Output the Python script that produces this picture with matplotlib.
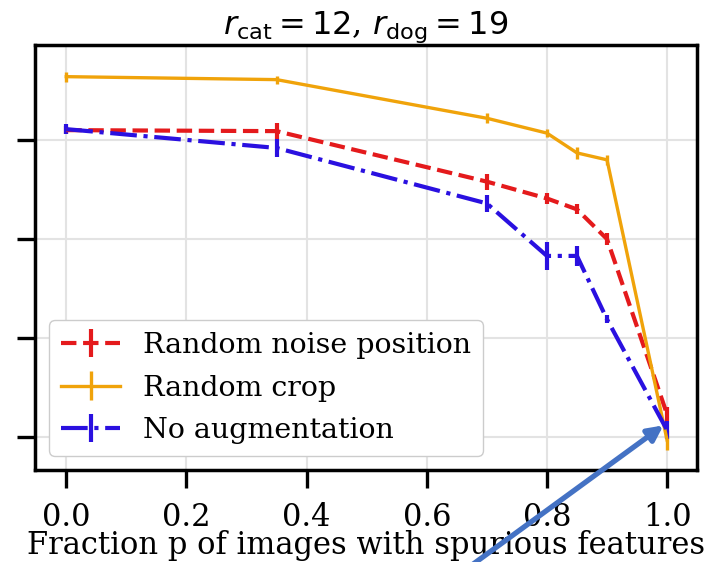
import matplotlib
matplotlib.use("Agg")
import matplotlib.pyplot as plt

# fraction p of images with spurious features
p_values = [0.0, 0.35, 0.7, 0.8, 0.85, 0.9, 1.0]

# accuracy-like values (y tick labels are hidden in the original)
noise_pos = [0.910, 0.909, 0.858, 0.841, 0.830, 0.800, 0.623]
noise_pos_err = [0.004, 0.008, 0.008, 0.006, 0.005, 0.006, 0.007]
crop = [0.964, 0.961, 0.922, 0.907, 0.887, 0.880, 0.597]
crop_err = [0.005, 0.004, 0.005, 0.004, 0.006, 0.005, 0.010]
no_aug = [0.911, 0.892, 0.836, 0.783, 0.783, 0.719, 0.607]
no_aug_err = [0.005, 0.009, 0.009, 0.014, 0.010, 0.004, 0.009]

x_ticks = [0.0, 0.2, 0.4, 0.6, 0.8, 1.0]
y_ticks = [0.6, 0.7, 0.8, 0.9]

plt.rcParams["font.family"] = "DejaVu Serif"
plt.rcParams["mathtext.fontset"] = "dejavusans"

fig = plt.figure(figsize=(7.15, 5.62), dpi=100)
ax = fig.add_axes([0.049, 0.164, 0.926, 0.756])

ax.errorbar(p_values, noise_pos, yerr=noise_pos_err, color="#e41a1c", linestyle="--",
            linewidth=3.0, elinewidth=3.0, label="Random noise position")
ax.errorbar(p_values, crop, yerr=crop_err, color="#f0a30a", linestyle="-",
            linewidth=2.4, elinewidth=2.4, label="Random crop")
ax.errorbar(p_values, no_aug, yerr=no_aug_err, color="#2a10e0", linestyle="-.",
            linewidth=3.0, elinewidth=3.0, label="No augmentation")

ax.set_xlim(-0.052, 1.05)
ax.set_ylim(0.567, 0.996)
ax.set_xticks(x_ticks)
ax.set_yticks(y_ticks)
ax.set_yticklabels([])
ax.grid(True, color="#e3e3e3", linewidth=1.5)
ax.set_axisbelow(True)
for s in ax.spines.values():
    s.set_linewidth(2.5)
    s.set_color("black")
ax.tick_params(axis="both", length=13, width=2.4, labelsize=22, pad=10)

ax.set_xlabel("Fraction p of images with spurious features", fontsize=22, labelpad=-2)
ax.set_title(r"$r_{\rm cat}=12$, $r_{\rm dog}=19$", fontsize=23, pad=4)

ax.legend(loc="lower left", fontsize=20.5, handlelength=2.1, borderaxespad=0.5,
          labelspacing=0.55, frameon=True, edgecolor="#cccccc", framealpha=1.0)

# blue pointer arrow overlaid on the figure
ax.annotate("", xy=(0.931, 0.246), xycoords="figure fraction",
            xytext=(0.655, -0.01), textcoords="figure fraction",
            arrowprops=dict(arrowstyle="-|>,head_length=0.9,head_width=0.45",
                            color="#4472c4", linewidth=3.8),
            annotation_clip=False)

fig.savefig("out.png", dpi=100)
